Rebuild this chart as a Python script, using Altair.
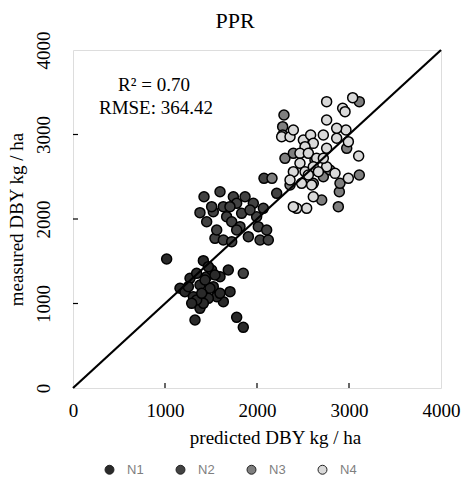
import altair as alt
import pandas as pd

# ---- data ----
n1_pred = [1018, 1417, 1326, 1779, 1851, 1380, 1634, 1707, 1688, 1163, 1217, 1272, 1308,
           1380, 1453, 1507, 1471, 1525, 1562, 1471, 1417, 1344, 1290, 1598, 1598, 1344,
           1254, 1489, 1399, 1435, 1543]
n1_meas = [1527, 1507, 805, 836, 718, 943, 1022, 1140, 1396, 1180, 1140, 1298, 1081,
           1219, 1318, 1396, 1436, 1199, 1081, 1061, 1002, 1041, 1002, 1318, 1120, 1357,
           1199, 1180, 1120, 1278, 1337]

n2_pred = [1424, 1598, 1380, 1453, 1525, 1543, 1634, 1725, 1562, 1634, 1670, 1743, 1833,
           1870, 1960, 1779, 1725, 1815, 1906, 2014, 2033, 2123, 2105, 2069, 1996, 1779,
           1924, 1507, 1706, 2214, 2076, 1851]
n2_meas = [2264, 2323, 2075, 1968, 2087, 1771, 1751, 1732, 1870, 2146, 2028, 2264, 2067,
           2264, 2185, 2185, 1968, 1909, 1791, 1909, 1751, 1751, 1870, 2126, 2028, 1870,
           2107, 2146, 2146, 2304, 2481, 1357]

n3_pred = [2163, 2293, 2279, 2279, 2304, 2359, 2884, 2895, 3112, 3112, 2703, 2721, 2612,
           2630, 2975, 2902, 2793, 2540, 2395]
n3_meas = [2481, 3231, 3093, 2994, 2718, 2402, 2146, 2323, 2521, 3389, 2225, 2501, 2422,
           2698, 2836, 2422, 2580, 2816, 2777]

n4_pred = [3040, 2757, 2931, 2957, 2757, 2967, 2268, 2359, 2395, 2504, 2583, 2721, 2612,
           2522, 2467, 2558, 2648, 2757, 2866, 2993, 3105, 2993, 2848, 2757, 2467, 2395,
           2522, 2612, 2558, 2485, 2594, 2612, 2540, 2431, 2395, 2866, 2721, 2359, 2667]
n4_meas = [3436, 3389, 3310, 3270, 3172, 3053, 2974, 2974, 3053, 2935, 2994, 2994, 2895,
           2856, 2777, 2777, 2718, 2836, 2955, 2915, 2746, 2481, 2540, 2619, 2659, 2560,
           2560, 2619, 2520, 2422, 2402, 2264, 2126, 2126, 2146, 3073, 2718, 2461, 2560]

groups = ["N1", "N2", "N3", "N4"]
colors = ["#2a2a2a", "#424242", "#7f7f7f", "#d9d9d9"]
ticks = [0, 1000, 2000, 3000, 4000]
line_ends = [0, 4000]
title_text = "PPR"
r2_text = "R\u00b2 = 0.70"
rmse_text = "RMSE: 364.42"

rows = []
for g, px, my in zip(groups, [n1_pred, n2_pred, n3_pred, n4_pred],
                     [n1_meas, n2_meas, n3_meas, n4_meas]):
    for a, b in zip(px, my):
        rows.append({"group": g, "pred": a, "meas": b})
df = pd.DataFrame(rows)

W, H = 368, 338
SERIF = "Liberation Serif"

xs = alt.Scale(domain=[0, 4000], nice=False)
ys = alt.Scale(domain=[0, 4000], nice=False)

points = alt.Chart(df).mark_circle(size=100, opacity=1, stroke="black", strokeWidth=1.5).encode(
    x=alt.X("pred:Q", scale=xs,
            axis=alt.Axis(title="predicted DBY kg / ha", values=ticks, format="d", grid=False,
                          ticks=False, domain=False, labelFlush=False, labelFont=SERIF,
                          labelFontSize=19, labelColor="black", labelPadding=13,
                          titleFont=SERIF, titleFontSize=19, titleFontWeight="normal",
                          titleColor="black", titlePadding=8, titleX=202, titleAlign="center")),
    y=alt.Y("meas:Q", scale=ys,
            axis=alt.Axis(title="measured DBY kg / ha", values=ticks, format="d", grid=False,
                          ticks=False, domain=False, labelFlush=False, labelFont=SERIF,
                          labelFontSize=19, labelColor="black", labelAngle=270,
                          labelAlign="center", labelBaseline="bottom", labelPadding=20,
                          titleFont=SERIF, titleFontSize=19, titleFontWeight="normal",
                          titleColor="black", titlePadding=8)),
    color=alt.Color("group:N", scale=alt.Scale(domain=groups, range=colors),
                    legend=alt.Legend(title=None, orient="none", direction="horizontal",
                                      legendX=30, legendY=413, columns=4, symbolType="circle",
                                      symbolSize=80, symbolStrokeColor="#222222",
                                      symbolStrokeWidth=1, labelFont="Liberation Sans",
                                      labelFontSize=13, labelColor="#7f7f7f", labelOffset=11,
                                      columnPadding=30)),
)

line_df = pd.DataFrame({"a": line_ends, "b": line_ends})
diag = alt.Chart(line_df).mark_line(color="black", strokeWidth=2.2).encode(
    x=alt.X("a:Q", scale=xs), y=alt.Y("b:Q", scale=ys))

tick_df = pd.DataFrame({"v": ticks[1:-1]})
xticks = alt.Chart(tick_df).mark_rule(color="black", strokeWidth=1.2).encode(
    x=alt.X("v:Q", scale=xs), y=alt.value(H), y2=alt.value(H - 5))
yticks = alt.Chart(tick_df).mark_rule(color="black", strokeWidth=1.2).encode(
    y=alt.Y("v:Q", scale=ys), x=alt.value(0), x2=alt.value(5))

text_df = pd.DataFrame({"t": [title_text, r2_text, rmse_text],
                        "k": ["title", "r2", "rmse"]})
title_mark = alt.Chart(text_df).transform_filter(alt.datum.k == "title").mark_text(
    font=SERIF, fontSize=22, color="black", align="center", baseline="middle").encode(
    text="t:N", x=alt.value(162), y=alt.value(-29))
r2_mark = alt.Chart(text_df).transform_filter(alt.datum.k == "r2").mark_text(
    font=SERIF, fontSize=19, color="black", align="center", baseline="middle").encode(
    text="t:N", x=alt.value(81), y=alt.value(35))
rmse_mark = alt.Chart(text_df).transform_filter(alt.datum.k == "rmse").mark_text(
    font=SERIF, fontSize=19, color="black", align="center", baseline="middle").encode(
    text="t:N", x=alt.value(83), y=alt.value(58))

chart = alt.layer(points, diag, xticks, yticks, title_mark, r2_mark, rmse_mark).properties(
    width=W, height=H,
    padding={"left": 73, "top": 50, "right": 23, "bottom": 96},
    autosize=alt.AutoSizeParams(type="none"),
).configure_view(stroke="black", strokeWidth=1.5).configure(background="white")

chart.save("out.html", embed_options={"renderer": "svg", "actions": False})
